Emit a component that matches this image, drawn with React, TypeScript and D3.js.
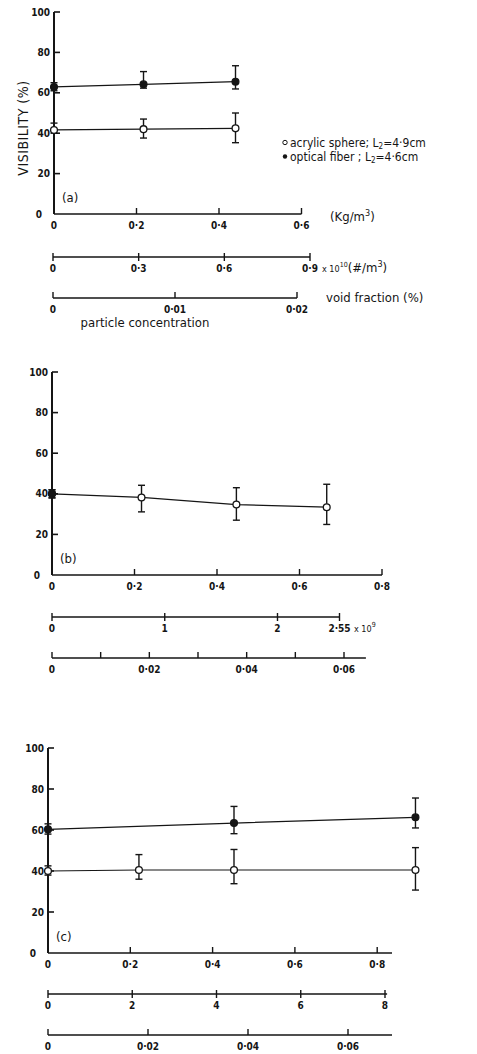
import React from 'react';
import * as d3 from 'd3';

// Panel (a)
const aOpenX = [0, 0.217, 0.44];
const aOpenY = [41.6, 42, 42.4];
const aOpenHi = [45, 47, 50];
const aOpenLo = [40, 37.6, 35.3];
const aFillX = [0, 0.217, 0.44];
const aFillY = [62.9, 64.2, 65.5];
const aFillHi = [65, 70.5, 73.4];
const aFillLo = [61, 62.3, 61.9];

// Panel (b)
const bOpenX = [0, 0.217, 0.447, 0.666];
const bOpenY = [40, 38.2, 34.7, 33.4];
const bOpenHi = [42, 44.2, 43, 44.7];
const bOpenLo = [38, 31.1, 27, 24.9];
const bFillX = [0];
const bFillY = [40];
const bFillHi = [42];
const bFillLo = [38];

// Panel (c)
const cOpenX = [0, 0.221, 0.452, 0.893];
const cOpenY = [40, 40.5, 40.5, 40.5];
const cOpenHi = [42.5, 48, 50.5, 51.4];
const cOpenLo = [38, 36, 33.8, 30.7];
const cFillX = [0, 0.452, 0.893];
const cFillY = [60.3, 63.4, 66.2];
const cFillHi = [63, 71.5, 75.6];
const cFillLo = [58, 58.2, 61];

const yTicks = [0, 20, 40, 60, 80, 100];
const fmt = (v: number) => (v === 0 ? '0' : String(v).replace('.', '·'));

const FONT = '"DejaVu Sans Condensed", "DejaVu Sans", sans-serif';
const INK = '#151515';

type Series = { x: number[]; y: number[]; hi: number[]; lo: number[]; filled: boolean };

interface Sub {
  y: number;
  domain: [number, number];
  range: [number, number];
  end: number;
  ticks: number[];
  labels: number[];
  cross: boolean;
}

interface PanelCfg {
  x0: number;
  unit: number;
  y0: number;
  y100: number;
  xEnd: number;
  xTicks: number[];
  series: Series[];
  tag: string;
  subs: Sub[];
}

const panels: PanelCfg[] = [
  {
    x0: 54, unit: 412.5, y0: 214, y100: 12, xEnd: 0.6, xTicks: [0.2, 0.4, 0.6], tag: '(a)',
    series: [
      { x: aOpenX, y: aOpenY, hi: aOpenHi, lo: aOpenLo, filled: false },
      { x: aFillX, y: aFillY, hi: aFillHi, lo: aFillLo, filled: true },
    ],
    subs: [
      { y: 257, domain: [0, 0.9], range: [53, 310], end: 0.9, ticks: [0, 0.3, 0.6, 0.9], labels: [0, 0.3, 0.6, 0.9], cross: true },
      { y: 298, domain: [0, 0.02], range: [53, 297], end: 0.02, ticks: [0, 0.01, 0.02], labels: [0, 0.01, 0.02], cross: false },
    ],
  },
  {
    x0: 52, unit: 412.5, y0: 575, y100: 372, xEnd: 0.8, xTicks: [0.2, 0.4, 0.6, 0.8], tag: '(b)',
    series: [
      { x: bOpenX, y: bOpenY, hi: bOpenHi, lo: bOpenLo, filled: false },
      { x: bFillX, y: bFillY, hi: bFillHi, lo: bFillLo, filled: true },
    ],
    subs: [
      { y: 617, domain: [0, 2.55], range: [52, 339.5], end: 2.55, ticks: [0, 1, 2, 2.55], labels: [0, 1, 2, 2.55], cross: true },
      { y: 658, domain: [0, 0.06], range: [52, 344], end: 0.0645, ticks: [0, 0.01, 0.02, 0.03, 0.04, 0.05, 0.06], labels: [0, 0.02, 0.04, 0.06], cross: false },
    ],
  },
  {
    x0: 48, unit: 411.5, y0: 953, y100: 748, xEnd: 0.836, xTicks: [0.2, 0.4, 0.6, 0.8], tag: '(c)',
    series: [
      { x: cOpenX, y: cOpenY, hi: cOpenHi, lo: cOpenLo, filled: false },
      { x: cFillX, y: cFillY, hi: cFillHi, lo: cFillLo, filled: true },
    ],
    subs: [
      { y: 994, domain: [0, 8], range: [48, 385], end: 8.05, ticks: [0, 2, 4, 6, 8], labels: [0, 2, 4, 6, 8], cross: true },
      { y: 1035, domain: [0, 0.06], range: [48, 348], end: 0.0688, ticks: [0, 0.02, 0.04, 0.06], labels: [0, 0.02, 0.04, 0.06], cross: false },
    ],
  },
];

const Panel: React.FC<{ p: PanelCfg }> = ({ p }) => {
  const x = d3.scaleLinear().domain([0, 1]).range([p.x0, p.x0 + p.unit]);
  const y = d3.scaleLinear().domain([0, 100]).range([p.y0, p.y100]);
  const line = d3.line<[number, number]>().x(d => x(d[0])).y(d => y(d[1]));

  return (
    <g>
      {/* y axis */}
      <line x1={x(0)} x2={x(0)} y1={y(0)} y2={y(100)} stroke={INK} strokeWidth={2} />
      {yTicks.map(t => (
        <g key={t}>
          {t > 0 && <line x1={x(0)} x2={x(0) + 6} y1={y(t)} y2={y(t)} stroke={INK} strokeWidth={1.6} />}
          <text x={x(0) - (t === 0 ? 12 : 4)} y={y(t) + 3.5} textAnchor="end" fontSize={10} fontWeight="bold" fill={INK}>{t}</text>
        </g>
      ))}
      {/* main x axis */}
      <line x1={x(0)} x2={x(p.xEnd)} y1={y(0)} y2={y(0)} stroke={INK} strokeWidth={1.6} />
      {p.xTicks.map(t => (
        <line key={t} x1={x(t)} x2={x(t)} y1={y(0)} y2={y(0) - 6} stroke={INK} strokeWidth={1.4} />
      ))}
      {[0, ...p.xTicks].map(t => (
        <text key={t} x={x(t)} y={y(0) + 15} textAnchor="middle" fontSize={10} fontWeight="bold" fill={INK}>{fmt(t)}</text>
      ))}
      <text x={x(0) + 8} y={y(0) - 12} fontSize={13} fill={INK}>{p.tag}</text>

      {/* series */}
      {p.series.map((s, i) => {
        const pts = s.x.map((v, j) => [v, s.y[j]] as [number, number]);
        return (
          <g key={i}>
            {pts.length > 1 && <path d={line(pts) || ''} fill="none" stroke={INK} strokeWidth={1.2} />}
            {pts.map((d, j) => (
              <g key={j}>
                <line x1={x(d[0])} x2={x(d[0])} y1={y(s.hi[j])} y2={y(s.lo[j])} stroke={INK} strokeWidth={1.4} />
                <line x1={x(d[0]) - 3.5} x2={x(d[0]) + 3.5} y1={y(s.hi[j])} y2={y(s.hi[j])} stroke={INK} strokeWidth={1.4} />
                <line x1={x(d[0]) - 3.5} x2={x(d[0]) + 3.5} y1={y(s.lo[j])} y2={y(s.lo[j])} stroke={INK} strokeWidth={1.4} />
                <circle cx={x(d[0])} cy={y(d[1])} r={3.4} fill={s.filled ? INK : '#fff'} stroke={INK} strokeWidth={1.3} />
              </g>
            ))}
          </g>
        );
      })}

      {/* secondary axes */}
      {p.subs.map((sb, i) => {
        const sx = d3.scaleLinear().domain(sb.domain).range(sb.range);
        return (
          <g key={i}>
            <line x1={sx(0)} x2={sx(sb.end)} y1={sb.y} y2={sb.y} stroke={INK} strokeWidth={1.6} />
            {sb.ticks.map(t => (
              <line key={t} x1={sx(t)} x2={sx(t)} y1={sb.y - (sb.cross ? 4 : 6)} y2={sb.y + (sb.cross ? 4 : 0)} stroke={INK} strokeWidth={1.4} />
            ))}
            {sb.labels.map(t => (
              <text key={t} x={sx(t)} y={sb.y + 15} textAnchor="middle" fontSize={10} fontWeight="bold" fill={INK}>{fmt(t)}</text>
            ))}
          </g>
        );
      })}
    </g>
  );
};

const App: React.FC = () => {
  return (
    <svg width={477} height={1054} viewBox="0 0 477 1054"
      style={{ position: 'absolute', left: 0, top: 0, background: '#fff' }}
      fontFamily={FONT}>
      {panels.map((p, i) => <Panel key={i} p={p} />)}

      <text transform="translate(28,128) rotate(-90)" textAnchor="middle" fontSize={14} fill={INK} letterSpacing={0.5}>VISIBILITY (%)</text>

      {/* legend (a) */}
      <circle cx={285} cy={142.5} r={2.2} fill="#fff" stroke={INK} strokeWidth={1} />
      <text x={290} y={146.5} fontSize={12} fill={INK}>acrylic sphere; L<tspan fontSize={8} dy={2.5}>2</tspan><tspan dy={-2.5}>=4·9cm</tspan></text>
      <circle cx={285} cy={156.5} r={2.2} fill={INK} />
      <text x={290} y={160.5} fontSize={12} fill={INK}>optical fiber ;  L<tspan fontSize={8} dy={2.5}>2</tspan><tspan dy={-2.5}>=4·6cm</tspan></text>

      {/* units (a) */}
      <text x={330} y={221} fontSize={13} fill={INK}>(Kg/m<tspan fontSize={9} dy={-5}>3</tspan><tspan dy={5}>)</tspan></text>
      <text x={322} y={272} fontSize={9} fill={INK}>x 10<tspan fontSize={7} dy={-5}>10</tspan><tspan fontSize={13} dy={5}>(#/m</tspan><tspan fontSize={9} dy={-5}>3</tspan><tspan fontSize={13} dy={5}>)</tspan></text>
      <text x={326} y={302} fontSize={13} fill={INK}>void fraction (%)</text>
      <text x={145} y={327} textAnchor="middle" fontSize={13} fill={INK}>particle concentration</text>

      {/* units (b) */}
      <text x={354} y={632} fontSize={9} fill={INK}>x 10<tspan fontSize={7} dy={-5}>9</tspan></text>
    </svg>
  );
};

export default App;
